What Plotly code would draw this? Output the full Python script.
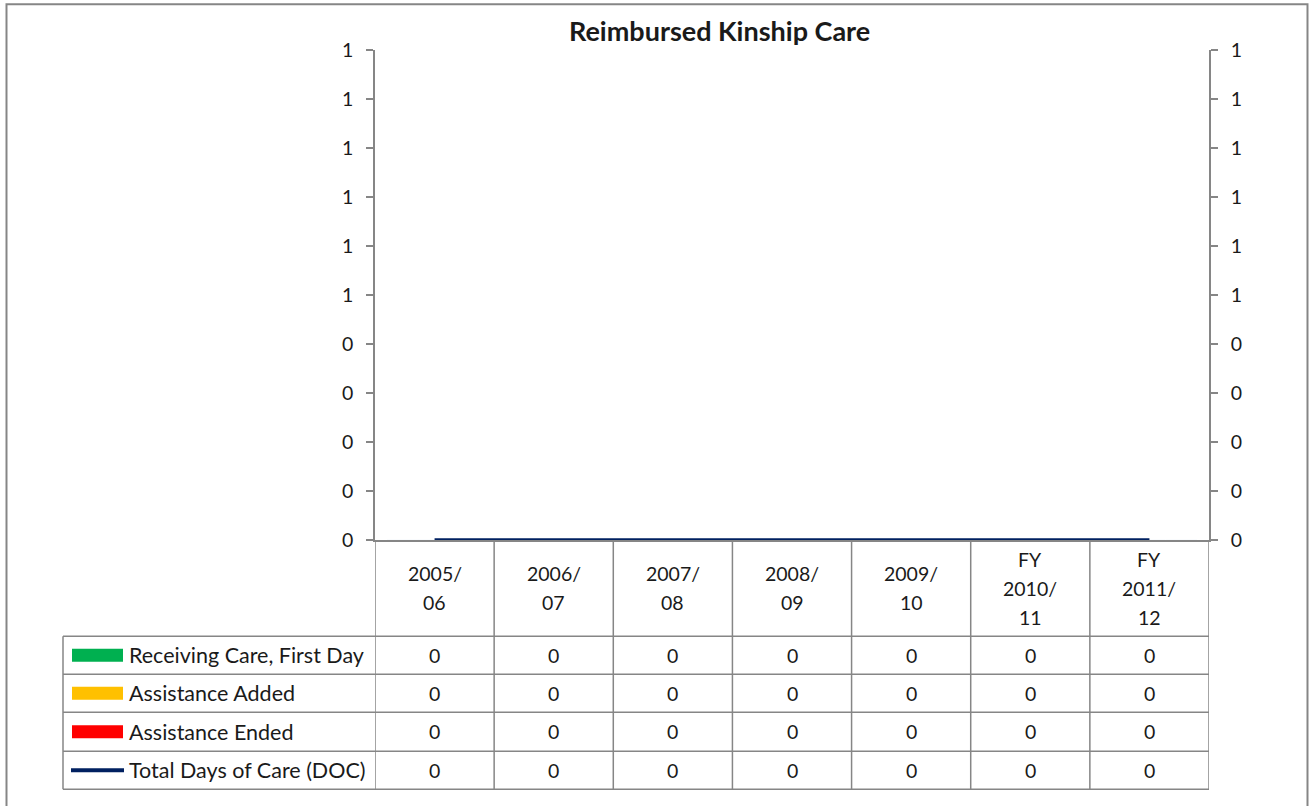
import plotly.graph_objects as go

# ---------------- data ----------------
title_text = "Reimbursed Kinship Care"
categories = ["2005/<br>06", "2006/<br>07", "2007/<br>08", "2008/<br>09",
              "2009/<br>10", "FY<br>2010/<br>11", "FY<br>2011/<br>12"]
receiving_first_day = [0, 0, 0, 0, 0, 0, 0]
assistance_added = [0, 0, 0, 0, 0, 0, 0]
assistance_ended = [0, 0, 0, 0, 0, 0, 0]
total_days_of_care = [0, 0, 0, 0, 0, 0, 0]
series_names = ["Receiving Care, First Day", "Assistance Added",
                "Assistance Ended", "Total Days of Care (DOC)"]
y_tick_values = [0, 0.1, 0.2, 0.3, 0.4, 0.5, 0.6, 0.7, 0.8, 0.9, 1.0]
y_tick_labels = ["0", "0", "0", "0", "0", "1", "1", "1", "1", "1", "1"]

# ---------------- styling ----------------
W, H = 1311, 806
FONT = "Lato"
GRAY = "#868686"
TXT = "#1a1a1a"
COLORS = ["#00B050", "#FFC000", "#FF0000", "#002060"]
NUM_SIZE = 19.5
LEG_SIZE = 21.5
# observed vertical placement of the rendered page (offset / scale)
V_OFF, V_SCALE = 11.7, 0.9715


def px(x):
    return x / W


def py(y):
    return 1 - ((y - V_OFF) / V_SCALE) / H


PLOT_L, PLOT_R, PLOT_T, PLOT_B = 375, 1209, 50, 540
TABLE_LEFT = 63
ROW_EDGES = [636, 674, 712, 751, 789]

fig = go.Figure()
bar_series = [receiving_first_day, assistance_added, assistance_ended]
for name, vals, col in zip(series_names[:3], bar_series, COLORS[:3]):
    fig.add_trace(go.Bar(x=categories, y=vals, name=name, marker_color=col,
                         showlegend=False))
fig.add_trace(go.Scatter(x=categories, y=total_days_of_care, mode="lines",
                         name=series_names[3],
                         line=dict(color=COLORS[3], width=4),
                         showlegend=False))

axis_common = dict(range=[0, 1], tickvals=y_tick_values, ticktext=y_tick_labels,
                   showline=True, linecolor=GRAY, linewidth=1.5,
                   ticks="outside", ticklen=7, tickcolor=GRAY, tickwidth=1.5,
                   showgrid=False, zeroline=False, ticklabelstandoff=9,
                   tickfont=dict(family=FONT, size=NUM_SIZE, color=TXT),
                   domain=[py(PLOT_B), py(PLOT_T)], fixedrange=True)

fig.update_layout(
    width=W, height=H, autosize=False,
    margin=dict(l=0, r=0, t=0, b=0),
    paper_bgcolor="white", plot_bgcolor="white",
    showlegend=False, barmode="group",
    xaxis=dict(type="category", range=[-0.5, len(categories) - 0.5],
               domain=[px(PLOT_L), px(PLOT_R)], showticklabels=False,
               ticks="", showgrid=False, zeroline=False, showline=True,
               linecolor=GRAY, linewidth=1.5, fixedrange=True),
    yaxis=dict(side="left", anchor="x", **axis_common),
    yaxis2=dict(side="right", anchor="x", overlaying="y", **axis_common),
)
fig.add_trace(go.Scatter(x=categories, y=total_days_of_care, yaxis="y2",
                         mode="lines", line=dict(width=0), hoverinfo="skip",
                         showlegend=False))

shapes = []
line_style = dict(color=GRAY, width=1.5)
frame_style = dict(color=GRAY, width=2)
shapes.append(dict(type="path", xref="paper", yref="paper",
                   path="M %f,%f L %f,%f L %f,%f L %f,%f" % (
                       px(6.5), py(812), px(6.5), py(4), px(1307.5), py(4),
                       px(1307.5), py(812)),
                   line=frame_style))
for y in ROW_EDGES:
    shapes.append(dict(type="line", xref="paper", yref="paper",
                       x0=px(TABLE_LEFT), x1=px(PLOT_R), y0=py(y), y1=py(y),
                       line=line_style))
shapes.append(dict(type="line", xref="paper", yref="paper",
                   x0=px(TABLE_LEFT), x1=px(TABLE_LEFT),
                   y0=py(ROW_EDGES[0]), y1=py(ROW_EDGES[-1]), line=line_style))
for i in range(len(categories) + 1):
    shapes.append(dict(type="line", xref="x", yref="paper",
                       x0=i - 0.5, x1=i - 0.5, y0=py(PLOT_B), y1=py(ROW_EDGES[-1]),
                       line=line_style))

annotations = [dict(text="<b>%s</b>" % title_text, xref="paper", yref="paper",
                    x=px(719), y=py(30), showarrow=False,
                    font=dict(family=FONT, size=27, color=TXT),
                    xanchor="center", yanchor="middle")]

head_center = (PLOT_B + ROW_EDGES[0]) / 2
LINE_GAP = 29
for i, cat in enumerate(categories):
    lines = cat.split("<br>")
    n = len(lines)
    for k, t in enumerate(lines):
        yy = head_center + (k - (n - 1) / 2) * LINE_GAP
        annotations.append(dict(text=t, xref="x", yref="paper", x=i, y=py(yy),
                                showarrow=False, xanchor="center", yanchor="middle",
                                font=dict(family=FONT, size=NUM_SIZE, color=TXT)))

all_series = [receiving_first_day, assistance_added, assistance_ended,
              total_days_of_care]
for r, (name, vals, col) in enumerate(zip(series_names, all_series, COLORS)):
    yc = (ROW_EDGES[r] + ROW_EDGES[r + 1]) / 2
    if r < 3:
        shapes.append(dict(type="rect", xref="paper", yref="paper",
                           x0=px(72), x1=px(123), y0=py(yc + 6.5), y1=py(yc - 6.5),
                           fillcolor=col, line=dict(width=0)))
    else:
        shapes.append(dict(type="line", xref="paper", yref="paper",
                           x0=px(71), x1=px(124), y0=py(yc), y1=py(yc),
                           line=dict(color=col, width=4)))
    annotations.append(dict(text=name, xref="paper", yref="paper",
                            x=px(127), y=py(yc), showarrow=False,
                            xanchor="left", yanchor="middle",
                            font=dict(family=FONT, size=LEG_SIZE, color=TXT)))
    for i, v in enumerate(vals):
        annotations.append(dict(text=str(v), xref="x", yref="paper", x=i, y=py(yc),
                                showarrow=False, xanchor="center", yanchor="middle",
                                font=dict(family=FONT, size=NUM_SIZE, color=TXT)))

fig.update_layout(shapes=shapes, annotations=annotations)
fig.write_html(
    "out.html",
    config={"displayModeBar": False},
    post_script="document.body.style.margin='0';"
                "document.body.style.overflow='hidden';",
)
